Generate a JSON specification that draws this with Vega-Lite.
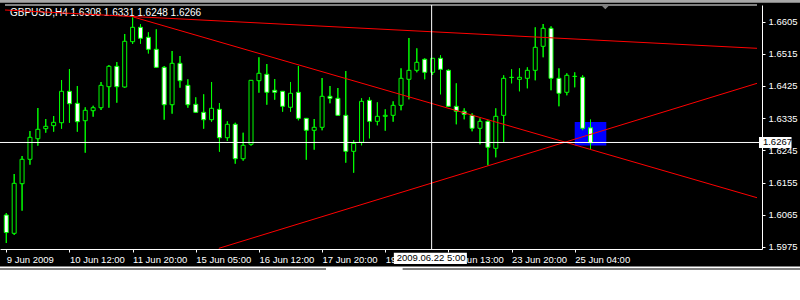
{
  "$schema": "https://vega.github.io/schema/vega-lite/v6.json",
  "width": 762,
  "height": 244,
  "autosize": {"type": "none"},
  "padding": {"left": 0, "top": 5, "right": 38, "bottom": 51},
  "background": "#000000",
  "config": {
    "view": {"stroke": null},
    "font": "Liberation Sans",
    "axis": {"labelOverlap": false, "labelBound": false, "labelFlush": false, "grid": false, "title": null},
    "axisY": {"labelOverlap": false, "tickCount": 8}
  },
  "datasets": {
    "candles": [
      {"i":0,"o":1.60643,"h":1.60699,"l":1.59861,"c":1.60154},
      {"i":1,"o":1.60132,"h":1.61789,"l":1.60085,"c":1.61529},
      {"i":2,"o":1.61518,"h":1.62292,"l":1.60764,"c":1.62200},
      {"i":3,"o":1.62200,"h":1.62990,"l":1.62049,"c":1.62814},
      {"i":4,"o":1.62775,"h":1.63633,"l":1.62580,"c":1.63038},
      {"i":5,"o":1.63055,"h":1.63326,"l":1.62943,"c":1.63122},
      {"i":6,"o":1.63139,"h":1.63409,"l":1.62971,"c":1.63233},
      {"i":7,"o":1.63222,"h":1.64415,"l":1.63055,"c":1.64100},
      {"i":8,"o":1.64100,"h":1.64723,"l":1.63222,"c":1.63753},
      {"i":9,"o":1.63764,"h":1.64248,"l":1.62971,"c":1.63250},
      {"i":10,"o":1.63278,"h":1.63653,"l":1.62384,"c":1.63569},
      {"i":11,"o":1.63558,"h":1.63697,"l":1.63390,"c":1.63641},
      {"i":12,"o":1.63641,"h":1.64360,"l":1.63577,"c":1.64267},
      {"i":13,"o":1.64228,"h":1.64835,"l":1.63641,"c":1.64798},
      {"i":14,"o":1.64798,"h":1.64918,"l":1.63781,"c":1.64228},
      {"i":15,"o":1.64220,"h":1.65701,"l":1.64200,"c":1.65497},
      {"i":16,"o":1.65486,"h":1.66162,"l":1.65421,"c":1.65888},
      {"i":17,"o":1.65888,"h":1.65972,"l":1.65430,"c":1.65581},
      {"i":18,"o":1.65609,"h":1.65748,"l":1.65156,"c":1.65273},
      {"i":19,"o":1.65273,"h":1.65832,"l":1.64751,"c":1.64770},
      {"i":20,"o":1.64770,"h":1.64807,"l":1.63306,"c":1.63725},
      {"i":21,"o":1.63725,"h":1.65226,"l":1.63474,"c":1.64882},
      {"i":22,"o":1.64882,"h":1.65086,"l":1.64200,"c":1.64396},
      {"i":23,"o":1.64267,"h":1.64435,"l":1.63641,"c":1.63725},
      {"i":24,"o":1.63736,"h":1.63932,"l":1.63502,"c":1.63513},
      {"i":25,"o":1.63513,"h":1.64016,"l":1.63055,"c":1.63306},
      {"i":26,"o":1.63306,"h":1.64360,"l":1.63250,"c":1.63625},
      {"i":27,"o":1.63597,"h":1.63773,"l":1.62412,"c":1.62803},
      {"i":28,"o":1.62803,"h":1.63261,"l":1.62711,"c":1.63178},
      {"i":29,"o":1.63178,"h":1.63222,"l":1.62077,"c":1.62216},
      {"i":30,"o":1.62216,"h":1.62943,"l":1.62161,"c":1.62591},
      {"i":31,"o":1.62619,"h":1.64415,"l":1.62580,"c":1.64407},
      {"i":32,"o":1.64396,"h":1.65050,"l":1.64061,"c":1.64603},
      {"i":33,"o":1.64575,"h":1.64862,"l":1.63725,"c":1.64072},
      {"i":34,"o":1.64128,"h":1.64443,"l":1.63865,"c":1.64072},
      {"i":35,"o":1.64100,"h":1.64108,"l":1.63530,"c":1.63681},
      {"i":36,"o":1.63653,"h":1.64360,"l":1.63530,"c":1.64044},
      {"i":37,"o":1.64072,"h":1.64807,"l":1.63289,"c":1.63345},
      {"i":38,"o":1.63345,"h":1.63354,"l":1.62188,"c":1.63010},
      {"i":39,"o":1.63010,"h":1.63326,"l":1.62468,"c":1.63094},
      {"i":40,"o":1.63094,"h":1.64471,"l":1.63010,"c":1.63960},
      {"i":41,"o":1.63960,"h":1.64248,"l":1.63764,"c":1.63904},
      {"i":42,"o":1.63904,"h":1.64192,"l":1.63418,"c":1.63429},
      {"i":43,"o":1.63429,"h":1.64667,"l":1.62105,"c":1.62423},
      {"i":44,"o":1.62423,"h":1.62731,"l":1.61825,"c":1.62647},
      {"i":45,"o":1.62675,"h":1.63904,"l":1.62591,"c":1.63820},
      {"i":46,"o":1.63848,"h":1.63932,"l":1.62786,"c":1.63261},
      {"i":47,"o":1.63261,"h":1.63792,"l":1.63150,"c":1.63401},
      {"i":48,"o":1.63401,"h":1.63597,"l":1.62999,"c":1.63429},
      {"i":49,"o":1.63429,"h":1.63820,"l":1.63250,"c":1.63708},
      {"i":50,"o":1.63708,"h":1.64742,"l":1.63569,"c":1.64463},
      {"i":51,"o":1.64435,"h":1.65589,"l":1.63876,"c":1.64686},
      {"i":52,"o":1.64686,"h":1.65301,"l":1.64630,"c":1.64910},
      {"i":53,"o":1.64994,"h":1.65022,"l":1.64435,"c":1.64630},
      {"i":54,"o":1.64630,"h":1.65030,"l":1.64555,"c":1.65022},
      {"i":55,"o":1.65022,"h":1.65106,"l":1.64016,"c":1.64714},
      {"i":56,"o":1.64686,"h":1.64714,"l":1.63669,"c":1.63681},
      {"i":57,"o":1.63681,"h":1.64323,"l":1.63178,"c":1.63541},
      {"i":58,"o":1.63541,"h":1.63625,"l":1.63317,"c":1.63457},
      {"i":59,"o":1.63429,"h":1.63485,"l":1.62982,"c":1.63066},
      {"i":60,"o":1.63066,"h":1.63345,"l":1.62619,"c":1.63261},
      {"i":61,"o":1.63261,"h":1.63289,"l":1.62032,"c":1.62535},
      {"i":62,"o":1.62507,"h":1.63625,"l":1.62256,"c":1.63401},
      {"i":63,"o":1.63429,"h":1.64547,"l":1.62675,"c":1.64463},
      {"i":64,"o":1.64485,"h":1.64714,"l":1.64323,"c":1.64491},
      {"i":65,"o":1.64435,"h":1.64742,"l":1.64100,"c":1.64491},
      {"i":66,"o":1.64463,"h":1.64770,"l":1.64183,"c":1.64686},
      {"i":67,"o":1.64686,"h":1.65888,"l":1.64407,"c":1.65329},
      {"i":68,"o":1.65357,"h":1.65980,"l":1.65050,"c":1.65860},
      {"i":69,"o":1.65860,"h":1.65916,"l":1.64128,"c":1.64463},
      {"i":70,"o":1.64463,"h":1.64742,"l":1.63681,"c":1.64044},
      {"i":71,"o":1.64072,"h":1.64603,"l":1.63988,"c":1.64547},
      {"i":72,"o":1.64513,"h":1.64630,"l":1.64211,"c":1.64519},
      {"i":73,"o":1.64491,"h":1.64547,"l":1.63010,"c":1.63066},
      {"i":74,"o":1.6308,"h":1.6331,"l":1.6248,"c":1.6266}
    ],
    "trend": [
      {"line":"a","i":-0.1625,"p":1.66371},
      {"line":"a","i":95.0875,"p":1.65301},
      {"line":"b","i":16.0875,"p":1.66176},
      {"line":"b","i":95.0875,"p":1.61127},
      {"line":"c","i":26.925,"p":1.59713},
      {"line":"c","i":95.0875,"p":1.64323}
    ],
    "one": [{}]
  },
  "layer": [
    {
      "data": {"name": "candles"},
      "mark": {"type": "rule", "color": "#00ff00", "strokeWidth": 1},
      "encoding": {
        "x": {"field": "i", "type": "quantitative",
          "scale": {"domain": [-0.1625, 95.0875], "nice": false, "zero": false},
          "axis": {"title": null, "grid": false, "values": [0,8,16,24,32,40,48,56,64,72],
            "labelExpr": "['9 Jun 2009','10 Jun 12:00','11 Jun 20:00','15 Jun 05:00','16 Jun 12:00','17 Jun 20:00','19 Jun 04:00','22 Jun 13:00','23 Jun 20:00','25 Jun 04:00'][round(datum.value/8)]",
            "labelAlign": "left", "labelBaseline": "top", "labelPadding": 2, "labelFlush": false, "labelOverlap": false, "labelBound": false,
            "labelColor": "#ffffff", "labelFont": "Liberation Sans", "labelFontSize": 9.5,
            "domainColor": "#ffffff", "domainWidth": 1, "tickColor": "#ffffff", "tickSize": 3, "tickWidth": 1}},
        "y": {"field": "l", "type": "quantitative",
          "scale": {"domain": [1.59694, 1.66511], "nice": false, "zero": false},
          "axis": {"title": null, "grid": false, "orient": "right",
            "values": [1.5975,1.6065,1.6155,1.6245,1.6335,1.6425,1.6515,1.6605], "format": ".4f",
            "labelColor": "#ffffff", "labelFont": "Liberation Sans", "labelFontSize": 9.5, "labelPadding": 3,
            "labelOverlap": false, "labelBound": false, "labelFlush": false,
            "domainColor": "#ffffff", "domainWidth": 1, "tickColor": "#ffffff", "tickSize": 3, "tickWidth": 1}},
        "y2": {"field": "h"}
      }
    },
    {
      "data": {"name": "one"},
      "mark": {"type": "rect", "color": "#ffffff", "clip": false},
      "encoding": {
        "x": {"datum": -1, "type": "quantitative"},
        "x2": {"datum": 101},
        "y": {"datum": 1.59204, "type": "quantitative"},
        "y2": {"datum": 1.58200}
      }
    },
    {
      "data": {"name": "one"},
      "mark": {"type": "rule", "color": "#000000", "strokeWidth": 1, "clip": false},
      "encoding": {
        "x": {"datum": -1, "type": "quantitative"},
        "x2": {"datum": 40.5},
        "y": {"datum": 1.59135, "type": "quantitative"}
      }
    },
    {
      "data": {"name": "one"},
      "mark": {"type": "rule", "color": "#000000", "strokeWidth": 1, "clip": false},
      "encoding": {
        "x": {"datum": 50.2, "type": "quantitative"},
        "x2": {"datum": 101},
        "y": {"datum": 1.59135, "type": "quantitative"}
      }
    },
    {
      "data": {"name": "one"},
      "mark": {"type": "rect", "color": "#a8a8a8", "clip": false},
      "encoding": {
        "x": {"datum": -1, "type": "quantitative"},
        "x2": {"datum": 101},
        "y": {"datum": 1.66660, "type": "quantitative"},
        "y2": {"datum": 1.66575}
      }
    },
    {
      "data": {"name": "one"},
      "mark": {"type": "rule", "color": "#ffffff", "strokeWidth": 1, "clip": false},
      "encoding": {
        "x": {"datum": -0.1625, "type": "quantitative"},
        "x2": {"datum": 95.0875},
        "y": {"datum": 1.66511, "type": "quantitative"}
      }
    },
    {
      "data": {"name": "one"},
      "mark": {"type": "rect", "color": "#0000ff"},
      "encoding": {
        "x": {"datum": 72, "type": "quantitative"},
        "x2": {"datum": 76},
        "y": {"datum": 1.63242, "type": "quantitative"},
        "y2": {"datum": 1.62585}
      }
    },
    {
      "data": {"name": "candles"},
      "mark": {"type": "rule", "color": "#00ff00", "strokeWidth": 1},
      "encoding": {
        "x": {"field": "i", "type": "quantitative"},
        "y": {"field": "l", "type": "quantitative"},
        "y2": {"field": "h"}
      }
    },
    {
      "data": {"name": "candles"},
      "mark": {"type": "bar", "size": 4, "stroke": "#00ff00", "strokeWidth": 1},
      "encoding": {
        "x": {"field": "i", "type": "quantitative"},
        "y": {"field": "o", "type": "quantitative"},
        "y2": {"field": "c"},
        "fill": {"condition": {"test": "datum.o > datum.c", "value": "#ffffff"}, "value": "#000000"}
      }
    },
    {
      "data": {"name": "one"},
      "mark": {"type": "text", "color": "#ffffff", "font": "Liberation Sans", "fontSize": 10, "align": "left", "baseline": "middle", "clip": false},
      "encoding": {
        "x": {"datum": 0.4625, "type": "quantitative"},
        "y": {"datum": 1.66287, "type": "quantitative"},
        "text": {"value": "GBPUSD,H4  1.6308 1.6331 1.6248 1.6266"}
      }
    },
    {
      "data": {"name": "trend"},
      "mark": {"type": "line", "color": "#ff0000", "strokeWidth": 1, "clip": true},
      "encoding": {
        "x": {"field": "i", "type": "quantitative"},
        "y": {"field": "p", "type": "quantitative"},
        "detail": {"field": "line"}
      }
    },
    {
      "data": {"name": "one"},
      "mark": {"type": "rule", "color": "#ffffff", "strokeWidth": 1},
      "encoding": {
        "y": {"datum": 1.6267, "type": "quantitative"}
      }
    },
    {
      "data": {"name": "one"},
      "mark": {"type": "rule", "color": "#ffffff", "strokeWidth": 1},
      "encoding": {
        "x": {"datum": 53.875, "type": "quantitative"}
      }
    },
    {
      "data": {"name": "one"},
      "mark": {"type": "point", "shape": "M-1,-0.5L1,-0.5L0,0.5Z", "size": 80, "filled": true, "color": "#808080", "opacity": 1, "clip": false},
      "encoding": {
        "x": {"datum": 75.875, "type": "quantitative"},
        "y": {"datum": 1.66455, "type": "quantitative"}
      }
    },
    {
      "data": {"name": "one"},
      "mark": {"type": "rect", "color": "#ffffff", "clip": false},
      "encoding": {
        "x": {"datum": 95.34, "type": "quantitative"},
        "x2": {"datum": 99.46},
        "y": {"datum": 1.62823, "type": "quantitative"},
        "y2": {"datum": 1.62515}
      }
    },
    {
      "data": {"name": "one"},
      "mark": {"type": "text", "color": "#000000", "font": "Liberation Sans", "fontSize": 9.5, "align": "left", "baseline": "middle", "clip": false},
      "encoding": {
        "x": {"datum": 95.84, "type": "quantitative"},
        "y": {"datum": 1.6267, "type": "quantitative"},
        "text": {"value": "1.6267"}
      }
    },
    {
      "data": {"name": "one"},
      "mark": {"type": "rect", "color": "#ffffff", "clip": false},
      "encoding": {
        "x": {"datum": 49.09, "type": "quantitative"},
        "x2": {"datum": 58.34},
        "y": {"datum": 1.59590, "type": "quantitative"},
        "y2": {"datum": 1.59274}
      }
    },
    {
      "data": {"name": "one"},
      "mark": {"type": "text", "color": "#000000", "font": "Liberation Sans", "fontSize": 9.5, "align": "left", "baseline": "middle", "clip": false},
      "encoding": {
        "x": {"datum": 49.46, "type": "quantitative"},
        "y": {"datum": 1.59434, "type": "quantitative"},
        "text": {"value": "2009.06.22 5:00"}
      }
    }
  ]
}
